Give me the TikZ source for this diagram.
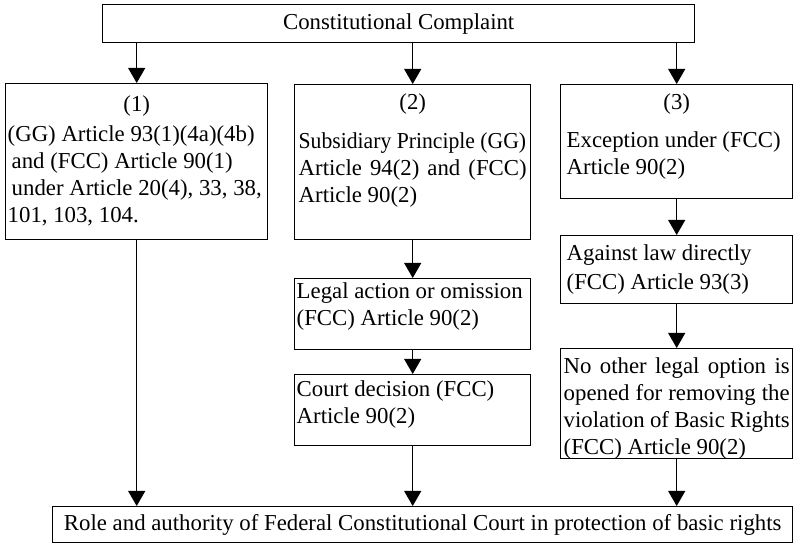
\documentclass[tikz,border=0pt]{standalone}
\usepackage{fontspec}
\setmainfont{Liberation Serif}
\usepackage{graphicx}
\usepackage{tikz}
\usetikzlibrary{arrows.meta}
\newcommand{\boxfont}{\fontsize{11.4}{13.5}\selectfont}
\newcommand{\midline}[1]{\makebox[\linewidth]{#1}}
\tikzset{
  ar/.style={-{Triangle[length=7.5pt,width=8.5pt]},line width=0.5pt},
  box/.style={draw,line width=0.7pt,anchor=north west,inner ysep=1.5pt,inner xsep=1pt,font=\boxfont},
  wide/.style={draw,line width=0.7pt,anchor=north west,inner sep=0pt,font=\boxfont}
}
\begin{document}
\begin{tikzpicture}[x=0.5pt,y=-0.5pt]
\useasboundingbox (0,0) rectangle (794,544);
\node[wide,minimum width=296pt,minimum height=19pt] (cc) at (102,4) {Constitutional Complaint};
\node[wide,minimum width=370pt,minimum height=18pt] (rb) at (52,506) {Role and authority of Federal Constitutional Court in protection of basic rights};
% column 1
\node[box,text width=129pt,align=flush left,text height=12.5pt,text depth=62.5pt] (b1) at (5,83)
  {\midline{(1)}\\[1.5pt](GG) Article 93(1)(4a)(4b)\\ \hspace*{2pt}and (FCC) Article 90(1)\\ \hspace*{2pt}under Article 20(4), 33, 38,\\ 101, 103, 104.};
% column 2
\node[box,inner xsep=2pt,text width=114pt,align=justify,text height=11pt,text depth=63.5pt] (b2) at (294,84)
  {\midline{(2)}\\[6pt]\scalebox{0.95}[1]{Subsidiary Principle (GG)}\linebreak Article 94(2) and (FCC)\linebreak Article 90(2)};
\node[box,text width=116pt,align=flush left,text height=8.5pt,text depth=24pt] (b2a) at (294,278)
  {Legal action or omission\\(FCC) Article 90(2)};
\node[box,text width=116pt,align=flush left,text height=9.5pt,text depth=23pt] (b2b) at (294,374)
  {Court decision (FCC)\\Article 90(2)};
% column 3
\node[box,inner xsep=3pt,text width=110pt,align=flush left,text height=11pt,text depth=43pt] (b3) at (560,84)
  {\midline{(3)}\\[5.5pt]Exception under (FCC)\\Article 90(2)};
\node[box,inner xsep=3pt,text width=110pt,align=flush left,text height=11pt,text depth=20pt] (b3a) at (560,235)
  {Against law directly\\[1pt](FCC) Article 93(3)};
\node[box,inner xsep=1.5pt,text width=113pt,align=justify,text height=11pt,text depth=41pt] (b3b) at (560,348)
  {No other legal option is\linebreak opened for removing the\linebreak violation of Basic Rights\linebreak (FCC) Article 90(2)};
% arrows
\draw[ar] (cc.south -| b1.north) -- (b1.north);
\draw[ar] (cc.south -| b2.north) -- (b2.north);
\draw[ar] (cc.south -| b3.north) -- (b3.north);
\draw[ar] (b2.south) -- (b2a.north);
\draw[ar] (b2a.south) -- (b2b.north);
\draw[ar] (b3.south) -- (b3a.north);
\draw[ar] (b3a.south) -- (b3b.north);
\draw[ar] (b1.south) -- (b1.south |- rb.north);
\draw[ar] (b2b.south) -- (b2b.south |- rb.north);
\draw[ar] (b3b.south) -- (b3b.south |- rb.north);
\end{tikzpicture}
\end{document}
